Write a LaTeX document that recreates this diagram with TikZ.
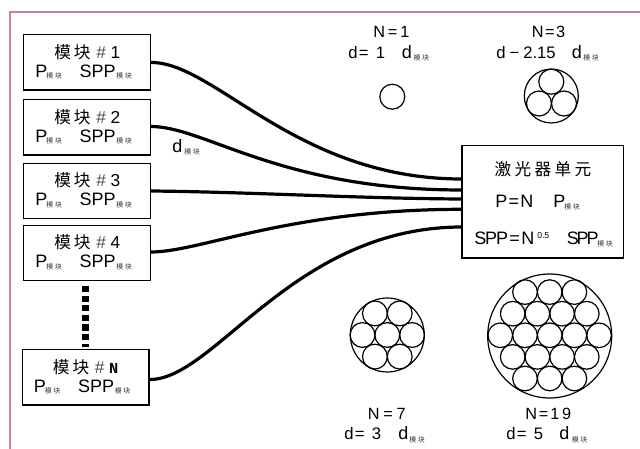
\documentclass[tikz,border=0pt]{standalone}
\usepackage{fontspec}
\setmainfont{Liberation Sans}
\newfontfamily\cjk{Noto Sans CJK SC}
\newfontfamily\monoN{Liberation Mono}
\usetikzlibrary{calc}
\definecolor{framepink}{HTML}{C97FA8}
\newcommand{\subblk}{{\cjk\fontsize{5.2}{5.2}\selectfont\color{black!80}模\hspace{1.3pt}块}}
\tikzset{
  x=0.75pt,y=-0.75pt,
  modbox/.style={draw=black,line width=1pt,fill=white,minimum width=95pt,minimum height=41.5pt,inner sep=0pt},
  txt/.style={inner sep=0pt,anchor=base west,font=\fontsize{13.5}{14}\selectfont},
  small/.style={inner sep=0pt,anchor=base west,font=\fontsize{12.2}{13}\selectfont},
  num/.style={inner sep=0pt,anchor=base west,font=\fontsize{12.5}{13}\selectfont},
  tiny/.style={inner sep=0pt,anchor=base west},
  title/.style={inner sep=0pt,anchor=base west,font=\cjk\fontsize{12.5}{13}\selectfont},
  fibre/.style={line width=2.4pt,line cap=butt},
  ring/.style={draw=black,line width=0.9pt},
}
% name, centre x, centre y, number
\newcommand{\modulebox}[4]{%
  \node[modbox] (#1) at (#2,#3) {};
  \node[title] (#1t) at ($(#1.center)+(-33,-4)$) {模\hspace{2.3pt}块};
  \node[inner sep=0pt,anchor=base west,font=\fontsize{13}{14}\selectfont] (#1n) at ($(#1.center)+(9,-4)$) {\textcolor{black!70}{\#}\hspace{3.5pt}#4};
  \node[txt] (#1p) at ($(#1.center)+(-52,15)$) {P};
  \node[tiny] (#1ps) at ($(#1.center)+(-41,16.5)$) {\subblk};
  \node[txt] (#1s) at ($(#1.center)+(-7.7,15)$) {SPP};
  \node[tiny] (#1ss) at ($(#1.center)+(29,16.5)$) {\subblk};
}
\begin{document}
\begin{tikzpicture}
\useasboundingbox (0,0) rectangle (640,449);
\fill[white] (0,0) rectangle (640,449);
\draw[framepink,line width=1.5pt] (640,12.5) -- (9.5,12.5) -- (9.5,449);

\modulebox{m1}{87}{62.5}{1}
\modulebox{m2}{87}{127.5}{2}
\modulebox{m3}{87}{191}{3}
\modulebox{m4}{87}{253}{4}
\modulebox{mn}{85.5}{377.5}{{\monoN\bfseries\fontsize{11.5}{12}\selectfont N}}

\node[draw=black,line width=1pt,fill=white,minimum width=121pt,minimum height=84.5pt,inner sep=0pt] (laser) at (542.7,201.8) {};
\coordinate (l1) at (462,179);
\coordinate (l2) at (462,190);
\coordinate (l3) at (462,199);
\coordinate (l4) at (462,209.3);
\coordinate (l5) at (462,227);

\draw[fibre] (m1.east) .. controls (215,62) and (296,179) .. (l1);
\draw[fibre] ($(m2.east)+(0,-1)$) .. controls (205,126.5) and (280,190) .. (l2);
\draw[fibre] (m3.east) .. controls (250,192) and (360,198.5) .. (l3);
\draw[fibre] ($(m4.east)+(0,-1)$) .. controls (200,252) and (290,209.3) .. (l4);
\draw[fibre] ($(mn.east)+(0,2)$) .. controls (215,380) and (293,227) .. (l5);

\coordinate (dota) at (85.3,286);
\coordinate (dotb) at (85.3,347);
\draw[line width=4.9pt,dash pattern=on 4.6pt off 2.6pt] (dota) -- (dotb);

\node[txt] (dl) at (172,152.7) {d};
\node[tiny] (dls) at (184,155) {\subblk};

% laser
\node[title] (ltitle) at (494.3,176) {激\hspace{2.5pt}光\hspace{2.5pt}器\hspace{2.5pt}单\hspace{2.5pt}元};
\node[txt] (lp) at (495,207.5) {P\hspace{1pt}=\hspace{1pt}N};
\node[txt] (lp2) at (553,207.5) {P};
\node[tiny] (lps) at (564,210) {\subblk};
\node[txt] (lspp) at (474,244.3) {S\hspace{-0.8pt}P\hspace{-0.8pt}P\hspace{1pt}=\hspace{1pt}N};
\node[inner sep=0pt,anchor=base west,font=\fontsize{6.5}{7}\selectfont] (lexp) at (537,239) {0.5};
\node[txt] (lspp2) at (566.5,244.3) {S\hspace{-1.6pt}P\hspace{-1.6pt}P};
\node[tiny] (lspps) at (597,246.5) {\subblk};

% N=1
\node[small] (a1) at (373,37.7) {N\hspace{2.2pt}=\hspace{2.2pt}1};
\node[num] (a2) at (348,59) {d\hspace{1pt}=\hspace{5.5pt}1};
\node[txt] (a3) at (401.5,59) {d};
\node[tiny] (a4) at (413.3,61) {\subblk};
\node[ring,circle,minimum size=18.7pt,inner sep=0pt] (c1) at (392.3,96.7) {};

% N=3
\node[small] (b1) at (531.5,37.7) {N\hspace{1.2pt}=\hspace{1.2pt}3};
\node[num] (b2) at (496,59) {d\hspace{3pt}−\hspace{3pt}2.15};
\node[txt] (b3) at (571.5,59) {d};
\node[tiny] (b4) at (583,61) {\subblk};
\draw[ring] (551.3,96) circle[radius=27];
\foreach \cx/\cy in {551.3/81.7,539/103.5,564/103.5}{\draw[ring] (\cx,\cy) circle[radius=12.5];}

% N=7
\draw[ring] (387.3,335) circle[radius=37];
\foreach \dy/\n/\ox in {-21.6/2/12.4,0/3/24.8,21.6/2/12.4}{
  \pgfmathtruncatemacro{\last}{\n-1}
  \foreach \i in {0,...,\last}{
    \draw[ring] ({387.3-\ox+24.8*\i},{335+\dy}) circle[radius=12.4];
  }
}
\node[small] (e1) at (367.7,420) {N\hspace{2.8pt}=\hspace{2.8pt}7};
\node[num] (e2) at (344,440) {d\hspace{1pt}=\hspace{5.5pt}3};
\node[txt] (e3) at (398,440) {d};
\node[tiny] (e4) at (409,442) {\subblk};

% N=19
\draw[ring] (549.7,336) circle[radius=62];
\foreach \dy/\n/\ox in {-43.2/3/24.7,-21.6/4/37,0/5/49.4,21.6/4/37,43.2/3/24.7}{
  \pgfmathtruncatemacro{\last}{\n-1}
  \foreach \i in {0,...,\last}{
    \draw[ring] ({549.7-\ox+24.7*\i},{335.3+\dy}) circle[radius=12.3];
  }
}
\node[small] (f1) at (525,420) {N\hspace{1.5pt}=\hspace{1.5pt}1\hspace{2pt}9};
\node[num] (f2) at (506,440) {d\hspace{1pt}=\hspace{5.5pt}5};
\node[txt] (f3) at (559,440) {d};
\node[tiny] (f4) at (571.5,442) {\subblk};
\end{tikzpicture}
\end{document}
